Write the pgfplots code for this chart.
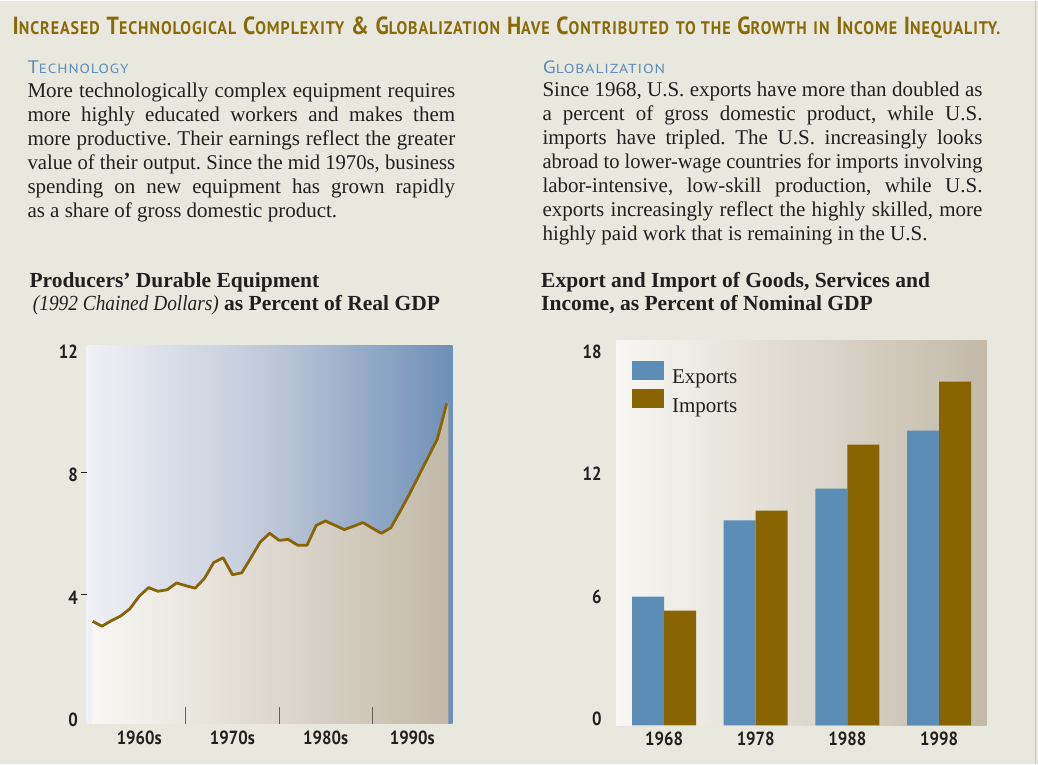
\documentclass[border=0pt]{standalone}
\usepackage{pgfplots}
\usepackage{pgfplotstable}
\pgfplotsset{compat=1.18}
\usepackage{fontspec}
\usepackage{graphicx}
\setmainfont{Liberation Serif}
\newfontfamily\ptsans{PT Sans}
\newfontfamily\ptsansls[LetterSpace=6]{PT Sans}
\frenchspacing

\definecolor{pagebg}{RGB}{233,232,222}
\definecolor{titlecol}{RGB}{137,106,8}
\definecolor{headblue}{RGB}{91,140,185}
\definecolor{txt}{RGB}{35,31,32}
\definecolor{expblue}{RGB}{91,141,182}
\definecolor{impbrown}{RGB}{136,101,0}
\definecolor{linecol}{RGB}{135,100,5}
\definecolor{blueL}{RGB}{240,241,246}
\definecolor{blueM}{RGB}{192,200,216}
\definecolor{blueR}{RGB}{110,143,183}
\definecolor{begL}{RGB}{248,247,243}
\definecolor{begM}{RGB}{222,217,207}
\definecolor{begR}{RGB}{194,185,168}
\definecolor{tickgray}{RGB}{100,96,92}
\definecolor{edge}{RGB}{205,197,175}

\newlength\jl
\newcommand\jline[2]{\settowidth{\jl}{#2}\ifdim\jl>#1\relax\resizebox{#1}{\height}{#2}\else\makebox[#1][s]{#2}\fi}
\newcommand\Ts[1]{{\fontsize{13.2}{13.2}\selectfont #1}}
\newcommand\Hs[1]{{\fontsize{11}{11}\selectfont #1}}
\newcommand\tl[1]{\scalebox{0.88}[1]{#1}}

\pgfplotsset{swatch/.style={legend image code/.code={\fill[##1] (0pt,-2pt) rectangle (32pt,17pt);}}}

\pgfplotstableread{
year val
1960 3.14
1961 2.98
1962 3.16
1963 3.31
1964 3.55
1965 3.96
1966 4.24
1967 4.12
1968 4.17
1969 4.39
1970 4.30
1971 4.22
1972 4.54
1973 5.06
1974 5.21
1975 4.66
1976 4.72
1977 5.22
1978 5.73
1979 6.01
1980 5.78
1981 5.81
1982 5.62
1983 5.62
1984 6.27
1985 6.41
1986 6.27
1987 6.13
1988 6.24
1989 6.36
1990 6.18
1991 6.01
1992 6.19
1993 6.73
1994 7.29
1995 7.89
1996 8.49
1997 9.09
1998 10.25
}\pde

\pgfplotstableread{
x exp imp
0 5.87 5.19
1 9.60 10.08
2 11.16 13.32
3 14.00 16.40
}\trade

\begin{document}
\begin{tikzpicture}
\fill[pagebg] (0pt,0pt) rectangle (1038pt,763pt);
\draw[edge, line width=1.2pt] (1035.5pt,0pt) -- (1035.5pt,763pt);

% main title
\node[anchor=base west, inner sep=0pt] at (12.5pt,729.3pt) {\resizebox{987.5pt}{17.7pt}{\color{titlecol}\ptsansls\bfseries\fontsize{18}{18}\selectfont I\Ts{NCREASED} T\Ts{ECHNOLOGICAL} C\Ts{OMPLEXITY} \& G\Ts{LOBALIZATION} H\Ts{AVE} C\Ts{ONTRIBUTED} \Ts{TO THE} G\Ts{ROWTH} \Ts{IN} I\Ts{NCOME} I\Ts{NEQUALITY.}}};

% headings
\node[anchor=base west, inner sep=0pt] at (27.3pt,690.3pt) {\resizebox{101pt}{12.7pt}{\color{headblue}\ptsansls\fontsize{15}{15}\selectfont T\Hs{ECHNOLOGY}}};
\node[anchor=base west, inner sep=0pt] at (542.7pt,690.3pt) {\resizebox{122.3pt}{12.7pt}{\color{headblue}\ptsansls\fontsize{15}{15}\selectfont G\Hs{LOBALIZATION}}};

% left body
\begin{scope}[every node/.style={anchor=base west, inner sep=0pt, font=\fontsize{21}{24}\selectfont, text=txt}]
\node at (27.3pt,666pt) {\jline{427.7pt}{More technologically complex equipment requires}};
\node at (27.3pt,642pt) {\jline{427.7pt}{more highly educated workers and makes them}};
\node at (27.3pt,618pt) {\jline{427.7pt}{more productive. Their earnings reflect the greater}};
\node at (27.3pt,594pt) {\jline{427.7pt}{value of their output. Since the mid 1970s, business}};
\node at (27.3pt,570pt) {\jline{427.7pt}{spending on new equipment has grown rapidly}};
\node at (27.3pt,546pt) {as a share of gross domestic product.};
% right body
\node at (542.3pt,666.7pt) {\jline{440pt}{Since 1968, U.S. exports have more than doubled as}};
\node at (542.3pt,642.7pt) {\jline{440pt}{a percent of gross domestic product, while U.S.}};
\node at (542.3pt,618.7pt) {\jline{440pt}{imports have tripled. The U.S. increasingly looks}};
\node at (542.3pt,594.7pt) {\jline{440pt}{abroad to lower-wage countries for imports involving}};
\node at (542.3pt,570.7pt) {\jline{440pt}{labor-intensive, low-skill production, while U.S.}};
\node at (542.3pt,546.7pt) {\jline{440pt}{exports increasingly reflect the highly skilled, more}};
\node at (542.3pt,522.7pt) {highly paid work that is remaining in the U.S.};
\end{scope}

% chart titles
\begin{scope}[every node/.style={anchor=base west, inner sep=0pt, font=\fontsize{21.5}{24}\selectfont\bfseries, text=txt}]
\node at (29.3pt,476.3pt) {Producers’ Durable Equipment};
\node at (32.7pt,453pt) {\scalebox{0.9}[1]{\mdseries\itshape (1992 Chained Dollars)} as Percent of Real GDP};
\node at (541pt,476.3pt) {Export and Import of Goods, Services and};
\node at (541pt,453pt) {Income, as Percent of Nominal GDP};
\end{scope}

% left chart
\begin{axis}[
  at={(86.7pt,39.7pt)}, anchor=south west,
  scale only axis, width=366pt, height=378.3pt,
  xmin=1959.36, xmax=1998.64, ymin=-0.205, ymax=12.13,
  axis line style={draw=none},
  axis background/.style={left color=blueL, right color=blueR, middle color=blueM},
  axis on top,
  xtick={1965,1975,1985,1994.3}, xticklabels={\tl{1960s},\tl{1970s},\tl{1980s},\tl{1990s}},
  ytick={0,4,8,12}, yticklabels={\tl{0},\tl{4},\tl{8},\tl{12}},
  major tick length=0pt,
  xtick pos=bottom, ytick pos=left,
  extra x ticks={1970,1980,1990}, extra x tick labels={},
  extra x tick style={major tick length=16.6pt, tick align=inside, major tick style={draw=tickgray, line width=1pt}},
  extra y ticks={4,8}, extra y tick labels={},
  extra y tick style={major tick length=6pt, tick align=outside, major tick style={draw=txt, line width=0.9pt}},
  ticklabel style={font=\ptsans\bfseries\fontsize{19}{19}\selectfont, text=txt, inner sep=0pt},
  xticklabel style={yshift=-7pt},
  yticklabel style={xshift=-8.7pt, yshift=-2.5pt},
]
\addplot[draw=none, left color=begL, right color=begR, middle color=begM] table[x=year,y=val]{\pde} -- (axis cs:1998.17,10.25) -- (axis cs:1998.17,-0.205) -- (axis cs:1960,-0.205) -- cycle;
\addplot[linecol, line width=2.8pt, line join=round] table[x=year,y=val]{\pde};
\end{axis}

% right chart
\begin{axis}[
  at={(616pt,38.3pt)}, anchor=south west,
  scale only axis, width=370.7pt, height=384.7pt,
  xmin=-0.524, xmax=3.52, ymin=0, ymax=18.84,
  axis line style={draw=none},
  axis background/.style={left color=begL, right color=begR, middle color=begM},
  ybar=0pt, bar width=32pt,
  xtick={0,1,2,3}, xticklabels={\tl{1968},\tl{1978},\tl{1988},\tl{1998}},
  ytick={0.43,6.43,12.43,18.43}, yticklabels={\tl{0},\tl{6},\tl{12},\tl{18}},
  major tick length=0pt,
  ticklabel style={font=\ptsans\bfseries\fontsize{19}{19}\selectfont, text=txt, inner sep=0pt},
  xticklabel style={yshift=-6.5pt},
  yticklabel style={xshift=-14.3pt, yshift=-2.5pt},
  legend style={at={(0.0432,0.948)}, anchor=north west, draw=none, fill=none, inner sep=0pt, outer sep=0pt,
    font=\fontsize{21}{21}\selectfont, text=txt, row sep=4pt, nodes={inner sep=0pt}},
  legend cell align=left,
  /tikz/every odd column/.append style={column sep=8pt},
]
\addplot[fill=expblue, draw=none, swatch] table[x=x, y expr=\thisrow{exp}+0.43]{\trade};
\addplot[fill=impbrown, draw=none, swatch] table[x=x, y expr=\thisrow{imp}+0.43]{\trade};
\legend{Exports, Imports}
\end{axis}
\end{tikzpicture}
\end{document}
